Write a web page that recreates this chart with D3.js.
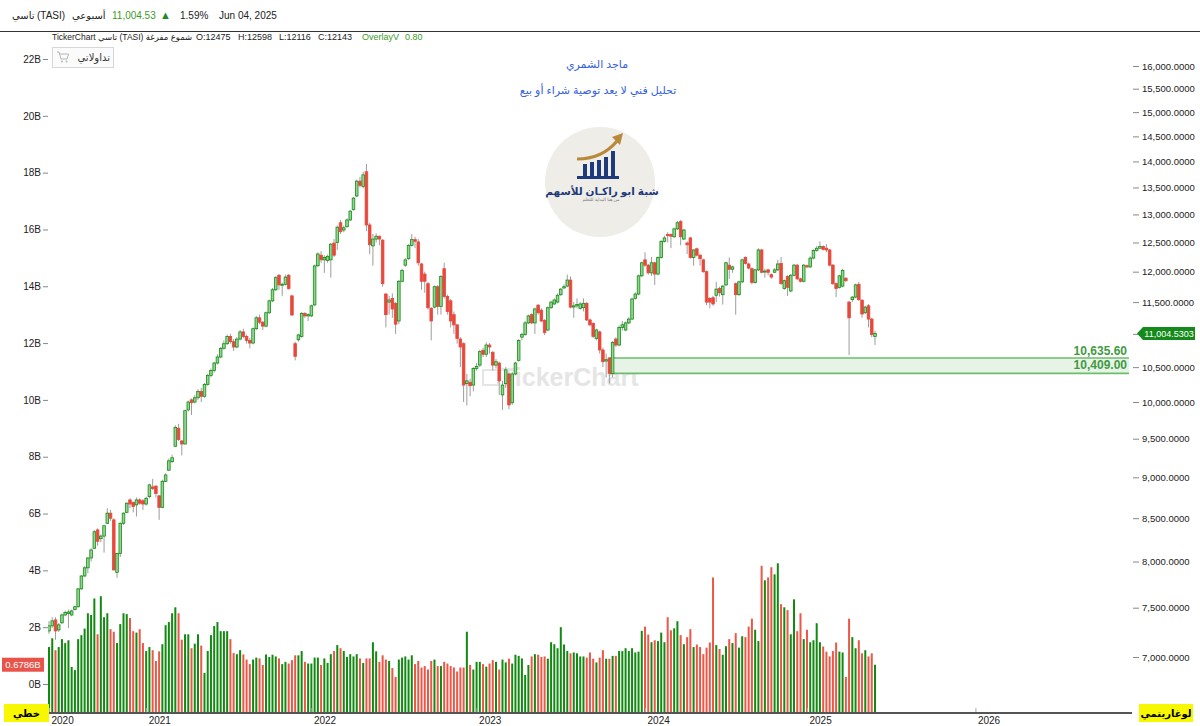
<!DOCTYPE html>
<html>
<head>
<meta charset="utf-8">
<script src="https://cdn.jsdelivr.net/npm/d3@7"></script>
<style>
  body { margin: 0; background: #fff; }
  svg { display: block; }
  text { font-family: "Liberation Sans", "DejaVu Sans", sans-serif; }
</style>
</head>
<body>
<svg id="chart" width="1200" height="726"></svg>
<script>
// weekly TASI candles (Jun 2020 -> Jun 2025)
const opens = [
  7260,7312,7373,7270,7343,7424,7440,7424,7480,7510,
  7700,7840,7930,8040,8150,8362,8260,8290,8440,8560,
  8480,7880,8090,8440,8570,8720,8690,8660,8720,8710,
  8670,8760,8880,8890,8770,8630,8950,9090,9200,9400,
  9640,9470,9430,9890,10030,10000,10060,10150,10080,10250,
  10380,10450,10560,10650,10780,10850,10960,10880,10800,10920,
  11030,10960,10900,10860,11080,11250,11180,11120,11330,11520,
  11700,11940,11780,11790,11940,11600,10850,10910,10960,11320,
  11280,11280,11454,12100,12280,12200,12190,12200,12490,12500,
  12850,12720,12780,12900,13090,13340,13620,13520,13800,12810,
  12440,12560,12610,12540,11630,11500,11560,11480,11200,11840,
  12110,12220,12450,12550,12510,12130,11960,11800,11400,11420,
  11750,11430,12050,11590,11520,11300,11140,10920,10850,10260,
  10280,10240,10480,10530,10750,10690,10830,10720,10530,10560,
  10100,10260,10400,9990,10400,10600,10950,10990,11170,11300,
  11170,11450,11370,11210,11060,11410,11470,11500,11620,11730,
  11760,11860,11420,11440,11400,11410,11480,11216,11160,10930,
  11030,10755,10590,10635.6,10409,10920,10830,11100,11060,11170,
  11230,11560,11630,11930,12200,12110,11980,12150,11960,12240,
  12520,12640,12640,12600,12740,12870,12560,12490,12580,12240,
  12390,12280,12200,12000,11560,11570,11610,11720,11620,11780,
  12110,12040,11800,11620,11830,12240,12130,12050,11820,12030,
  12370,12000,12030,11950,11990,12030,12140,11720,11920,11680,
  11940,12110,11880,11840,12100,12080,12230,12360,12400,12430,
  12400,12370,12110,11800,11740,11760,11890,11500,11540,11580,
  11790,11530,11330,11440,11230,10960
];
const highs = [
  7360,7400,7400,7340,7440,7470,7480,7480,7520,7710,
  7850,7950,8050,8150,8360,8380,8310,8420,8620,8600,
  8500,8100,8450,8570,8690,8740,8700,8750,8740,8730,
  8760,8920,8980,8900,8780,8970,9050,9240,9290,9680,
  9700,9480,9890,10020,10050,10100,10180,10200,10270,10400,
  10480,10580,10690,10800,10900,10990,11000,10920,10950,11060,
  11080,10990,10940,11100,11280,11300,11200,11350,11540,11730,
  11930,11960,11820,11950,11960,11620,10880,11000,11340,11340,
  11320,11460,12120,12330,12350,12280,12290,12490,12560,12800,
  12900,12800,12930,13080,13320,13650,13700,13800,13950,12850,
  12650,12660,12620,12560,11650,11600,11640,11500,11860,12050,
  12230,12470,12650,12600,12560,12150,12000,11830,11420,11770,
  11780,11940,12150,11620,11550,11350,11150,10950,10870,10400,
  10330,10500,10560,10760,10790,10870,10860,10740,10620,10580,
  10300,10500,10420,10430,10580,10920,11020,11200,11300,11320,
  11410,11470,11400,11230,11430,11520,11560,11640,11730,11790,
  11950,11920,11500,11560,11500,11560,11500,11240,11180,11080,
  11050,10790,10700,10650,10890,10950,11130,11200,11190,11260,
  11570,11660,11950,12170,12330,12130,12250,12170,12260,12540,
  12620,12680,12660,12760,12880,12900,12740,12520,12600,12380,
  12410,12300,12220,12020,11580,11600,11830,11750,11780,12170,
  12240,12100,11820,11850,12220,12260,12150,12070,12050,12400,
  12390,12050,12050,11970,12060,12200,12250,11870,11940,11960,
  12130,12130,11900,12130,12120,12260,12380,12440,12520,12450,
  12470,12390,12130,11820,11950,12050,11910,11520,11600,11800,
  11830,11550,11440,11470,11250,11050
];
const lows = [
  7230,7290,7170,7250,7330,7410,7290,7410,7470,7500,
  7690,7830,7870,8000,8140,8180,8220,8100,8430,8470,
  7900,7820,8050,8420,8560,8620,8570,8520,8660,8600,
  8650,8740,8840,8750,8480,8620,8940,9080,9180,9390,
  9470,9280,9420,9870,9820,9980,10030,10000,10060,10230,
  10350,10420,10540,10630,10760,10830,10850,10740,10780,10900,
  10930,10850,10780,10840,11060,11150,11060,11100,11310,11500,
  11680,11700,11600,11770,11700,11280,10600,10880,10940,11250,
  11200,11260,11440,12080,12150,11980,12150,11900,12250,12370,
  12650,12680,12760,12880,13070,13320,13500,13480,12700,12300,
  12100,12500,12450,11750,11100,11300,11250,11000,11150,11820,
  12080,12200,12430,12400,12100,11700,11650,11380,10900,11400,
  11300,11300,11560,11300,11100,11000,10850,10500,10000,9950,
  10080,10150,10450,10500,10650,10650,10700,10450,10480,10100,
  9890,10200,9900,9960,10380,10580,10900,10970,11150,11150,
  11000,11300,11180,10980,11040,11390,11450,11480,11600,11710,
  11740,11400,11250,11400,11380,11350,11200,11120,10940,10900,
  10700,10500,10350,10262,10350,10800,10810,11050,11040,11150,
  11210,11540,11610,11910,12080,11950,11930,11780,11940,12220,
  12500,12500,12400,12580,12720,12450,12540,12300,12220,12100,
  12260,12100,11980,11450,11400,11440,11500,11590,11460,11760,
  11880,11980,11300,11600,11810,12120,12040,11790,11800,12010,
  11970,11900,11940,11880,11980,12010,11780,11700,11600,11660,
  11920,11860,11820,11820,12060,12060,12210,12340,12390,12360,
  12330,12090,11780,11580,11720,11740,11830,10680,11500,11560,
  11520,11250,11310,11100,10950,10830
];
const closes = [
  7312,7363,7260,7322,7424,7450,7455,7466,7510,7700,
  7840,7930,8040,8131,8340,8230,8290,8410,8560,8500,
  7907,8090,8440,8560,8680,8670,8640,8720,8680,8670,
  8740,8905,8860,8800,8630,8950,9030,9210,9250,9650,
  9490,9430,9880,10000,9990,10060,10150,10080,10250,10380,
  10450,10560,10650,10780,10850,10960,10880,10800,10920,11030,
  10960,10900,10860,11080,11250,11180,11120,11330,11520,11700,
  11900,11780,11790,11910,11720,11294,10660,10984,11320,11280,
  11300,11440,12096,12300,12200,12240,12260,12470,12280,12770,
  12690,12760,12900,13060,13300,13620,13540,13740,12810,12460,
  12560,12610,12560,11800,11300,11534,11390,11150,11840,12020,
  12200,12450,12550,12520,12150,11840,11840,11410,11200,11750,
  11430,11920,11590,11350,11200,11140,10930,10800,10240,10300,
  10230,10480,10510,10730,10690,10830,10800,10530,10580,10300,
  10240,10460,9960,10400,10560,10900,10990,11170,11280,11170,
  11390,11330,11200,11020,11410,11500,11534,11610,11710,11750,
  11860,11420,11440,11460,11470,11480,11216,11140,10960,11060,
  10755,10580,10610,10409,10870,10830,11100,11140,11170,11230,
  11550,11630,11930,12150,12110,11980,12150,11960,12240,12520,
  12580,12620,12610,12740,12850,12600,12720,12460,12240,12370,
  12280,12220,12000,11500,11500,11470,11710,11650,11760,12150,
  12040,12080,11620,11830,12200,12140,12060,11820,12030,12370,
  11990,12010,11990,11910,12030,12130,11800,11850,11740,11940,
  12110,11880,11840,12110,12080,12230,12360,12400,12430,12380,
  12370,12110,11800,11720,11930,12020,11850,11250,11580,11780,
  11540,11310,11420,11230,10990,11004.53
];
// weekly volume, billions
const volumes = [
  1.30,1.61,1.19,1.30,1.58,1.44,1.54,0.60,0.49,1.58,
  1.72,1.95,2.49,2.43,3.01,1.75,3.09,2.35,2.49,1.93,
  1.84,1.44,2.11,2.49,2.46,2.32,1.86,1.81,1.93,1.44,
  1.16,1.30,1.19,0.81,1.15,1.40,2.07,2.18,2.49,2.70,
  2.49,1.56,1.75,1.75,1.26,1.42,1.75,1.35,0.39,1.16,
  1.72,2.04,2.18,1.86,1.86,1.86,1.58,1.09,1.05,1.19,
  1.04,0.86,0.70,0.86,0.93,0.90,0.67,1.04,0.95,1.03,
  0.97,0.90,0.70,0.78,0.72,0.84,1.01,1.01,1.16,0.78,
  0.72,0.72,0.93,0.93,0.67,0.90,0.74,1.05,1.16,1.37,
  1.26,1.16,0.95,1.05,0.97,1.05,0.90,0.74,0.90,0.90,
  1.47,1.15,0.78,1.01,0.86,0.81,0.56,0.25,0.86,0.93,
  0.97,0.86,1.01,0.70,0.81,0.58,0.63,0.51,0.81,0.86,
  0.63,0.63,0.78,0.72,0.63,0.58,0.44,0.58,0.58,1.84,
  0.67,0.51,0.78,0.78,0.70,0.61,0.72,0.84,0.78,0.51,
  0.86,0.76,0.89,0.72,1.03,0.99,0.90,0.32,0.67,0.97,
  1.05,1.03,0.95,0.97,0.89,1.47,1.40,1.26,2.00,1.39,
  1.16,1.08,1.11,1.08,0.97,0.97,0.93,1.11,0.89,0.76,
  0.93,1.19,0.89,0.89,0.99,0.99,1.16,1.16,1.26,1.16,
  1.26,1.11,1.14,1.87,2.02,1.74,1.47,1.54,1.51,1.81,
  1.47,2.35,1.89,1.96,2.21,1.72,1.40,1.65,1.93,1.30,
  1.39,1.30,1.05,1.28,1.46,3.75,1.37,1.23,1.03,1.33,
  1.58,1.44,1.79,1.28,1.68,1.65,2.02,2.30,1.91,1.51,
  4.16,3.65,3.75,4.11,3.86,4.25,2.81,2.70,2.60,1.75,
  2.98,1.86,2.49,1.58,1.91,1.47,1.54,2.14,1.47,1.32,
  1.14,0.97,1.16,1.46,1.14,1.11,0.25,2.30,1.65,1.26,
  1.54,1.08,1.19,0.97,1.08,0.6786
];

// index of the first weekly candle of each year (2026 is past the data)
const yearLabels = ['2020', '2021', '2022', '2023', '2024', '2025', '2026'];
const yearStartIndex = [0, 30, 81, 132, 184, 234, 286];

const priceTicks = [7000, 7500, 8000, 8500, 9000, 9500, 10000, 10500, 11000, 11500,
                    12000, 12500, 13000, 13500, 14000, 14500, 15000, 15500, 16000];
const volumeTicks = [0, 2, 4, 6, 8, 10, 12, 14, 16, 18, 20, 22];

// demand zone drawn from the Oct 2023 candle
const zoneTop = 10635.60;
const zoneBottom = 10409.00;
const zoneStartIndex = 173;
const lastPrice = 11004.5303;
const lastVolume = 0.6786;

const svg = d3.select('#chart');
const plot = { left: 48, right: 1132, top: 32, bottom: 713 };

const x = d3.scaleLinear().domain([0, closes.length - 1]).range([49, 875]);
const yPrice = d3.scaleLog().domain([7000, 16000]).range([657, 66]);
const yVol = d3.scaleLinear().domain([0, 22]).range([684, 59]);

const GREEN = '#148c14', GREEN_FILL = '#93d493', RED = '#e8483b';

const candles = closes.map(function (c, i) {
    return { i: i, o: opens[i], h: highs[i], l: lows[i], c: c, v: volumes[i], up: c >= opens[i] };
});

svg.append('defs').append('clipPath').attr('id', 'plotClip')
    .append('rect').attr('x', plot.left).attr('y', plot.top)
    .attr('width', plot.right - plot.left).attr('height', plot.bottom - plot.top);

// ---------- header ----------
function txt(g, px, py, s, size, color, weight) {
    return g.append('text').attr('x', px).attr('y', py)
        .attr('font-size', size).attr('fill', color || '#222')
        .attr('font-weight', weight || 'normal').text(s);
}
const head = svg.append('g');
txt(head, 12, 19, 'تاسي', 10);
txt(head, 37, 19, '(TASI)', 10);
txt(head, 72, 19, 'أسبوعي', 10);
txt(head, 112, 19, '11,004.53', 10, '#3d9b28');
txt(head, 160, 19, '▲', 11, '#1e8a2a');
txt(head, 180, 19, '1.59%', 10);
txt(head, 219, 19, 'Jun 04, 2025', 10);
head.append('line').attr('x1', 0).attr('x2', 1200).attr('y1', 31.5).attr('y2', 31.5)
    .attr('stroke', '#333').attr('stroke-width', 1);

txt(head, 52, 40, 'TickerChart تاسي (TASI) شموع مفرغة', 8.5);
txt(head, 196, 40, 'O:12475', 9);
txt(head, 238, 40, 'H:12598', 9);
txt(head, 279, 40, 'L:12116', 9);
txt(head, 318, 40, 'C:12143', 9);
txt(head, 362, 40, 'OverlayV', 9, '#3d9b28');
txt(head, 405, 40, '0.80', 9, '#3d9b28');

// my-trades button
const btn = svg.append('g');
btn.append('rect').attr('x', 52.5).attr('y', 47.5).attr('width', 61).attr('height', 20)
    .attr('fill', '#fbfbfb').attr('stroke', '#d6d6d6');
btn.append('path').attr('d', 'M57,52 h2 l2,7 h6 l1.5,-5 h-9')
    .attr('fill', 'none').attr('stroke', '#b5b5b5').attr('stroke-width', 1);
btn.append('circle').attr('cx', 62).attr('cy', 61.5).attr('r', 1).attr('fill', '#b5b5b5');
btn.append('circle').attr('cx', 66.5).attr('cy', 61.5).attr('r', 1).attr('fill', '#b5b5b5');
txt(btn, 110, 61, 'تداولاتي', 10, '#333').attr('text-anchor', 'end');

// ---------- annotations ----------
txt(svg, 597, 68, 'ماجد الشمري', 11, '#3461dc').attr('text-anchor', 'middle');
txt(svg, 598, 94, 'تحليل فني لا يعد توصية شراء أو بيع', 11, '#3461dc').attr('text-anchor', 'middle');

// logo
const logo = svg.append('g');
logo.append('circle').attr('cx', 600).attr('cy', 182).attr('r', 55).attr('fill', '#eeede8');
[[583, 164], [590, 162], [597, 160], [604, 157], [611, 151]].forEach(function (b) {
    logo.append('rect').attr('x', b[0]).attr('y', b[1]).attr('width', 4).attr('height', 176 - b[1]).attr('fill', '#1f3a7a');
});
logo.append('rect').attr('x', 577).attr('y', 176).attr('width', 42).attr('height', 3).attr('fill', '#1f3a7a');
logo.append('path').attr('d', 'M577,159 C596,159 608,152 617,141')
    .attr('fill', 'none').attr('stroke', '#b8893a').attr('stroke-width', 3.2);
logo.append('path').attr('d', 'M612,137 L623,133 L620,145 Z').attr('fill', '#b8893a');
txt(logo, 602, 195, 'شبة ابو راكـان للأسهم', 10.5, '#1f3a7a', 'bold').attr('text-anchor', 'middle');
txt(logo, 601, 201, 'من هنا البداية للتعلم', 4.5, '#777').attr('text-anchor', 'middle');

// watermark
const wm = svg.append('g').attr('opacity', 0.9);
wm.append('rect').attr('x', 483).attr('y', 370).attr('width', 15).attr('height', 15)
    .attr('fill', 'none').attr('stroke', '#e3e3e3').attr('stroke-width', 2);
txt(wm, 500, 386, 'TickerChart', 25, '#e3e3e3', 'bold');

// ---------- plot ----------
const gPlot = svg.append('g').attr('clip-path', 'url(#plotClip)');

// volume bars grow from the bottom of the panel
gPlot.append('g').selectAll('rect').data(candles).join('rect')
    .attr('x', function (d) { return x(d.i) - 1; })
    .attr('width', 2)
    .attr('y', function (d) { return yVol(d.v); })
    .attr('height', function (d) { return plot.bottom - yVol(d.v); })
    .attr('fill', function (d) { return d.up ? '#128a12' : '#ec5747'; });

// zone
const zx0 = x(zoneStartIndex), zy0 = yPrice(zoneTop), zy1 = yPrice(zoneBottom);
gPlot.append('rect').attr('x', zx0).attr('y', zy0).attr('width', plot.right - 3 - zx0).attr('height', zy1 - zy0)
    .attr('fill', '#e8f3e8');
[zy0, zy1].forEach(function (yy) {
    gPlot.append('line').attr('x1', zx0).attr('x2', plot.right - 3).attr('y1', yy).attr('y2', yy)
        .attr('stroke', '#6cbd6c').attr('stroke-width', 1.6);
});
gPlot.append('line').attr('x1', zx0).attr('x2', zx0).attr('y1', zy0).attr('y2', zy1)
    .attr('stroke', '#6cbd6c').attr('stroke-width', 1);
txt(svg, plot.right - 5, zy0 - 3, d3.format(',.2f')(zoneTop), 12, '#3f9a3f', 'bold').attr('text-anchor', 'end');
txt(svg, plot.right - 5, zy1 - 4, d3.format(',.2f')(zoneBottom), 12, '#3f9a3f', 'bold').attr('text-anchor', 'end');

// candles
const gC = gPlot.append('g');
gC.selectAll('line').data(candles).join('line')
    .attr('x1', function (d) { return x(d.i); })
    .attr('x2', function (d) { return x(d.i); })
    .attr('y1', function (d) { return yPrice(d.h); })
    .attr('y2', function (d) { return yPrice(d.l); })
    .attr('stroke', '#9d9d9d').attr('stroke-width', 1);
gC.selectAll('rect').data(candles).join('rect')
    .attr('x', function (d) { return x(d.i) - 1.3; })
    .attr('width', 2.6)
    .attr('y', function (d) { return yPrice(Math.max(d.o, d.c)); })
    .attr('height', function (d) { return Math.max(1, Math.abs(yPrice(d.o) - yPrice(d.c))); })
    .attr('fill', function (d) { return d.up ? GREEN_FILL : RED; })
    .attr('stroke', function (d) { return d.up ? GREEN : RED; })
    .attr('stroke-width', 0.8);

// ---------- axes ----------
const rightAxis = svg.append('g').attr('transform', 'translate(1133,0)')
    .call(d3.axisRight(yPrice).tickValues(priceTicks).tickFormat(d3.format(',.4f')).tickSize(6).tickPadding(3));
rightAxis.select('.domain').remove();
rightAxis.selectAll('line').attr('stroke', '#888');
rightAxis.selectAll('text').attr('font-size', 9.5).attr('fill', '#222')
    .attr('font-family', '"Liberation Sans", sans-serif');

const leftAxis = svg.append('g').attr('transform', 'translate(' + plot.left + ',0)')
    .call(d3.axisLeft(yVol).tickValues(volumeTicks).tickFormat(function (d) { return d + 'B'; }).tickSize(5).tickPadding(2));
leftAxis.select('.domain').remove();
leftAxis.selectAll('line').attr('stroke', '#888');
leftAxis.selectAll('text').attr('font-size', 10).attr('fill', '#222')
    .attr('font-family', '"Liberation Sans", sans-serif');

const bottomAxis = svg.append('g').attr('transform', 'translate(0,' + plot.bottom + ')')
    .call(d3.axisBottom(x).tickValues(yearStartIndex)
        .tickFormat(function (d, i) { return yearLabels[i]; }).tickSize(-5).tickPadding(4));
bottomAxis.select('.domain').remove();
bottomAxis.selectAll('line').attr('stroke', '#aaa');
bottomAxis.selectAll('text').attr('font-size', 10).attr('fill', '#222').attr('text-anchor', 'start').attr('dx', 2)
    .attr('font-family', '"Liberation Sans", sans-serif');
svg.append('line').attr('x1', plot.left).attr('x2', plot.right).attr('y1', plot.bottom).attr('y2', plot.bottom)
    .attr('stroke', '#555').attr('stroke-width', 2);

// ---------- value tags ----------
const lp = yPrice(lastPrice);
svg.append('path')
    .attr('d', 'M1137,' + lp + ' L1143,' + (lp - 6.5) + ' H1195 V' + (lp + 6.5) + ' H1143 Z')
    .attr('fill', '#138a1a');
txt(svg, 1169, lp + 3.3, d3.format(',.4f')(lastPrice), 9, '#fff').attr('text-anchor', 'middle');

const lv = yVol(lastVolume);
svg.append('rect').attr('x', 2).attr('y', lv - 7).attr('width', 42).attr('height', 14).attr('fill', '#e8544a');
txt(svg, 23, lv + 3.5, lastVolume + 'B', 9.5, '#fff').attr('text-anchor', 'middle');

// scale mode tags
svg.append('rect').attr('x', 4).attr('y', 704).attr('width', 45).attr('height', 18).attr('fill', '#f7f700');
txt(svg, 26.5, 717, 'خطي', 10, '#000', 'bold').attr('text-anchor', 'middle');
svg.append('rect').attr('x', 1139).attr('y', 704).attr('width', 54).attr('height', 18).attr('fill', '#f7f700');
txt(svg, 1166, 717, 'لوغاريتمي', 10, '#000', 'bold').attr('text-anchor', 'middle');
</script>
</body>
</html>
